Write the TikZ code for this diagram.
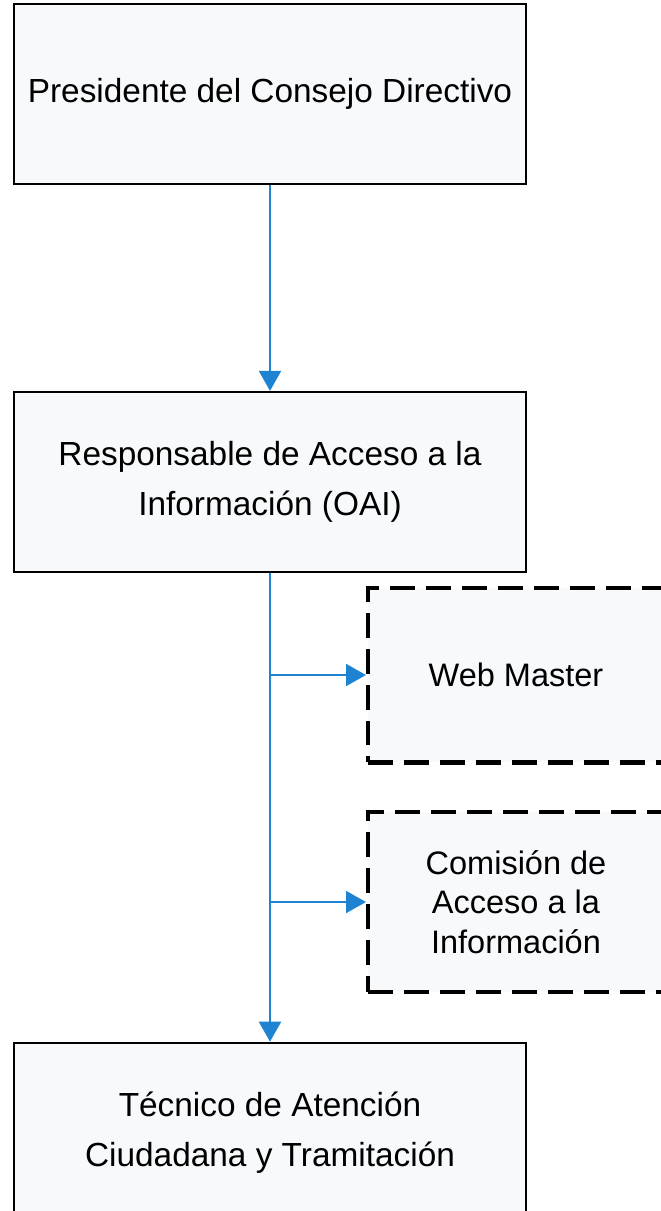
\documentclass[tikz,border=0pt]{standalone}
\usepackage{fontspec}
\setmainfont{Liberation Sans}
\usetikzlibrary{positioning, arrows.meta}
\definecolor{linkblue}{RGB}{30,132,210}
\definecolor{boxfill}{RGB}{247,249,251}

\begin{document}
\begin{tikzpicture}[x=0.02cm, y=-0.02cm,
    box/.style={draw, line width=1.1pt, fill=boxfill, minimum width=10.24cm, minimum height=3.6cm, inner sep=0pt, align=center, font=\fontsize{19}{28}\selectfont},
    side/.style={draw, line width=2.3pt, dash pattern=on 0.5cm off 0.22cm, fill=boxfill, minimum width=5.92cm, minimum height=3.6cm, inner sep=0pt, align=center, font=\fontsize{18.5}{22.5}\selectfont},
    link/.style={draw=linkblue, line width=1.1pt, -{Triangle[length=0.4cm, width=0.44cm]}}]
    \useasboundingbox (0,0) rectangle (661,1211);

    \node[box] (president) at (270,94) {Presidente del Consejo Directivo};
    \node[box, below = 4.12cm of president] (responsible) {Responsable de Acceso a la\\Información (OAI)};
    \node[box, below = 9.38cm of responsible] (technician) {Técnico de Atención\\Ciudadana y Tramitación};
    \node[side, minimum height=3.5cm] (webmaster) at (516,675) {Web Master};
    \node[side] (commission) at (516,902) {Comisión de\\Acceso a la\\Información};

    \draw[link] (president) -- (responsible);
    \draw[link] (responsible) -- (technician);
    \draw[link] (responsible.south |- webmaster.west) -- (webmaster.west);
    \draw[link] (responsible.south |- commission.west) -- (commission.west);
\end{tikzpicture}
\end{document}
